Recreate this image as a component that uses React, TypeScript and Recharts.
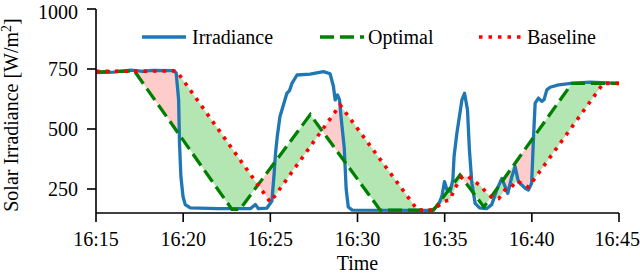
import { Area, ComposedChart, Legend, Line, XAxis, YAxis } from "recharts";

const timeTicks = [0, 5, 10, 15, 20, 25, 30];
const timeLabels = ["16:15", "16:20", "16:25", "16:30", "16:35", "16:40", "16:45"];
const irradianceTicks = [250, 500, 750, 1000];
const seriesNames = ["Irradiance", "Optimal", "Baseline"];

// [minutes after 16:15, W/m²]
const irradiance: [number, number][] = [
  [0, 735], [1.0, 737], [2.0, 745], [2.7, 740], [3.2, 744], [4.45, 743], [4.6, 733],
  [4.74, 621], [4.79, 441], [4.87, 302], [4.99, 219], [5.12, 185], [5.41, 171],
  [7.0, 168], [8.85, 168], [9.14, 185], [9.32, 168], [9.8, 170], [10.09, 200],
  [10.22, 317], [10.3, 400], [10.4, 470], [10.55, 551], [10.95, 649], [11.1, 660],
  [11.24, 690], [11.53, 725], [12.28, 729], [13.05, 739], [13.43, 730], [13.62, 677],
  [13.72, 621], [13.85, 642], [13.97, 621], [14.07, 540], [14.24, 420], [14.35, 250],
  [14.47, 175], [14.7, 162], [19.27, 161], [19.46, 171], [19.64, 185], [19.84, 219],
  [19.99, 281], [20.13, 247], [20.32, 240], [20.47, 289], [20.54, 386], [20.7, 482],
  [20.99, 621], [21.14, 649], [21.31, 579], [21.42, 412], [21.56, 274], [21.75, 190],
  [22.0, 171], [22.4, 168], [22.7, 185], [22.99, 246], [23.28, 294], [23.47, 260],
  [23.62, 232], [23.85, 301], [24.04, 343], [24.23, 280], [24.62, 253], [24.8, 246],
  [24.99, 274], [25.09, 455], [25.19, 608], [25.38, 629], [25.57, 615], [25.7, 622],
  [25.86, 663], [26.05, 674], [26.53, 684], [27.38, 691], [28.35, 695], [30, 690],
];

const optimal: [number, number][] = [
  [0, 738], [2.2, 742], [7.8, 165], [8.25, 165], [12.29, 560], [16.3, 162],
  [19.36, 162], [20.88, 308], [22.25, 175], [27.3, 690], [30, 690],
];

const baseline: [number, number][] = [
  [0, 740], [4.62, 742], [10.0, 195], [14.0, 600], [18.45, 162], [19.35, 162],
  [19.6, 178], [19.95, 198], [20.3, 205], [20.6, 255], [21.0, 302], [21.35, 302],
  [21.65, 283], [22.05, 265], [22.42, 232], [22.8, 211], [23.1, 210], [23.47, 247],
  [23.76, 252], [24.14, 285], [24.52, 268], [24.8, 258], [25.19, 296], [29.1, 690],
  [30, 690],
];

const BLUE = "#1f77b4";
const GREEN = "#008000";
const RED = "#ff0000";
const FONT = "Liberation Serif";

const rows = (pts: [number, number][]) => pts.map(([t, v]) => ({ t, v }));

const valueAt = (pts: [number, number][], t: number) => {
  if (t <= pts[0][0]) return pts[0][1];
  for (let i = 1; i < pts.length; i++) {
    const [t1, v1] = pts[i];
    if (t <= t1) {
      const [t0, v0] = pts[i - 1];
      return t1 === t0 ? v1 : v0 + ((v1 - v0) * (t - t0)) / (t1 - t0);
    }
  }
  return pts[pts.length - 1][1];
};

// shade between optimal and baseline: green where optimal is nearer the irradiance, red otherwise
function buildFill() {
  const stops = Array.from(
    new Set([...irradiance, ...optimal, ...baseline].map((p) => p[0]))
  ).sort((a, b) => a - b);
  const g = (t: number) => {
    const o = valueAt(optimal, t);
    const b = valueAt(baseline, t);
    const r = valueAt(irradiance, t);
    return [o - b, o + b - 2 * r];
  };
  const out: { t: number; good: number[] | null; bad: number[] | null }[] = [];
  for (let i = 0; i < stops.length - 1; i++) {
    const a = stops[i];
    const b = stops[i + 1];
    const ga = g(a);
    const gb = g(b);
    const cuts = [a, b];
    for (const k of [0, 1]) {
      if (ga[k] * gb[k] < 0) cuts.push(a + ((b - a) * ga[k]) / (ga[k] - gb[k]));
    }
    cuts.sort((x, y) => x - y);
    for (let j = 0; j < cuts.length - 1; j++) {
      const s = cuts[j];
      const e = cuts[j + 1];
      if (e - s < 1e-9) continue;
      const m = g((s + e) / 2);
      const good = m[0] * m[1] < 0;
      for (const t of [s, e]) {
        const o = valueAt(optimal, t);
        const bl = valueAt(baseline, t);
        const range = [Math.min(o, bl), Math.max(o, bl)];
        out.push({ t, good: good ? range : null, bad: good ? null : range });
      }
    }
  }
  return out;
}

const fillRows = buildFill();

const legendStyle = [
  { color: BLUE, dash: undefined, x: 142, tx: 192 },
  { color: GREEN, dash: "14 6", x: 320, tx: 368 },
  { color: RED, dash: "3.5 6", x: 479, tx: 527 },
];

const renderLegend = () => (
  <svg width={640} height={60} style={{ display: "block" }}>
    {seriesNames.map((name, i) => {
      const s = legendStyle[i];
      return (
        <g key={name}>
          <line
            x1={s.x}
            x2={s.x + 44}
            y1={37}
            y2={37}
            stroke={s.color}
            strokeWidth={i === 2 ? 3.6 : 3.3}
            strokeDasharray={s.dash}
          />
          <text x={s.tx} y={43.5} fontFamily={FONT} fontSize={20} fill="#000">
            {name}
          </text>
        </g>
      );
    })}
  </svg>
);

const YLabel = () => (
  <text
    x={18}
    y={115}
    transform="rotate(-90, 18, 115)"
    textAnchor="middle"
    fontFamily={FONT}
    fontSize={20}
    fill="#000"
  >
    Solar Irradiance [W/m
    <tspan dy={-7} fontSize={14}>2</tspan>
    <tspan dy={7}>]</tspan>
  </text>
);

const XLabel = () => (
  <text x={357.5} y={270} textAnchor="middle" fontFamily={FONT} fontSize={20} fill="#000">
    Time
  </text>
);

export default function App() {
  return (
    <div style={{ position: "absolute", left: 0, top: 0, background: "#fff", fontFamily: FONT }}>
      <ComposedChart width={640} height={276} margin={{ top: 9, right: 21, left: 0, bottom: 0 }}>
        <XAxis
          dataKey="t"
          type="number"
          domain={[0, 30]}
          ticks={timeTicks}
          tickFormatter={(v: number) => timeLabels[timeTicks.indexOf(v)]}
          height={63}
          tickSize={9}
          tickMargin={10}
          stroke="#000"
          strokeWidth={1.6}
          tick={{ fill: "#000", fontSize: 20, fontFamily: FONT }}
          label={<XLabel />}
          allowDataOverflow
        />
        <YAxis
          type="number"
          domain={[150, 1000]}
          ticks={irradianceTicks}
          width={96}
          tickSize={9}
          tickMargin={9}
          stroke="#000"
          strokeWidth={1.6}
          tick={{ fill: "#000", fontSize: 20, fontFamily: FONT }}
          label={<YLabel />}
          allowDataOverflow
        />
        <Legend
          content={renderLegend}
          layout="horizontal"
          verticalAlign="middle"
          align="center"
          wrapperStyle={{ top: 0, left: 0, width: 640, height: 60 }}
        />
        <Area
          data={fillRows}
          dataKey="bad"
          type="linear"
          stroke="none"
          fill="#ffcccc"
          fillOpacity={1}
          isAnimationActive={false}
          activeDot={false}
          legendType="none"
        />
        <Area
          data={fillRows}
          dataKey="good"
          type="linear"
          stroke="none"
          fill="#b3e6b3"
          fillOpacity={1}
          isAnimationActive={false}
          activeDot={false}
          legendType="none"
        />
        <Line
          data={rows(irradiance)}
          dataKey="v"
          name={seriesNames[0]}
          type="linear"
          stroke={BLUE}
          strokeWidth={3.3}
          strokeLinejoin="round"
          dot={false}
          activeDot={false}
          isAnimationActive={false}
        />
        <Line
          data={rows(optimal)}
          dataKey="v"
          name={seriesNames[1]}
          type="linear"
          stroke={GREEN}
          strokeWidth={3.3}
          strokeDasharray="14 6"
          dot={false}
          activeDot={false}
          isAnimationActive={false}
        />
        <Line
          data={rows(baseline)}
          dataKey="v"
          name={seriesNames[2]}
          type="linear"
          stroke={RED}
          strokeWidth={3.6}
          strokeDasharray="3.5 6"
          dot={false}
          activeDot={false}
          isAnimationActive={false}
        />
      </ComposedChart>
    </div>
  );
}
